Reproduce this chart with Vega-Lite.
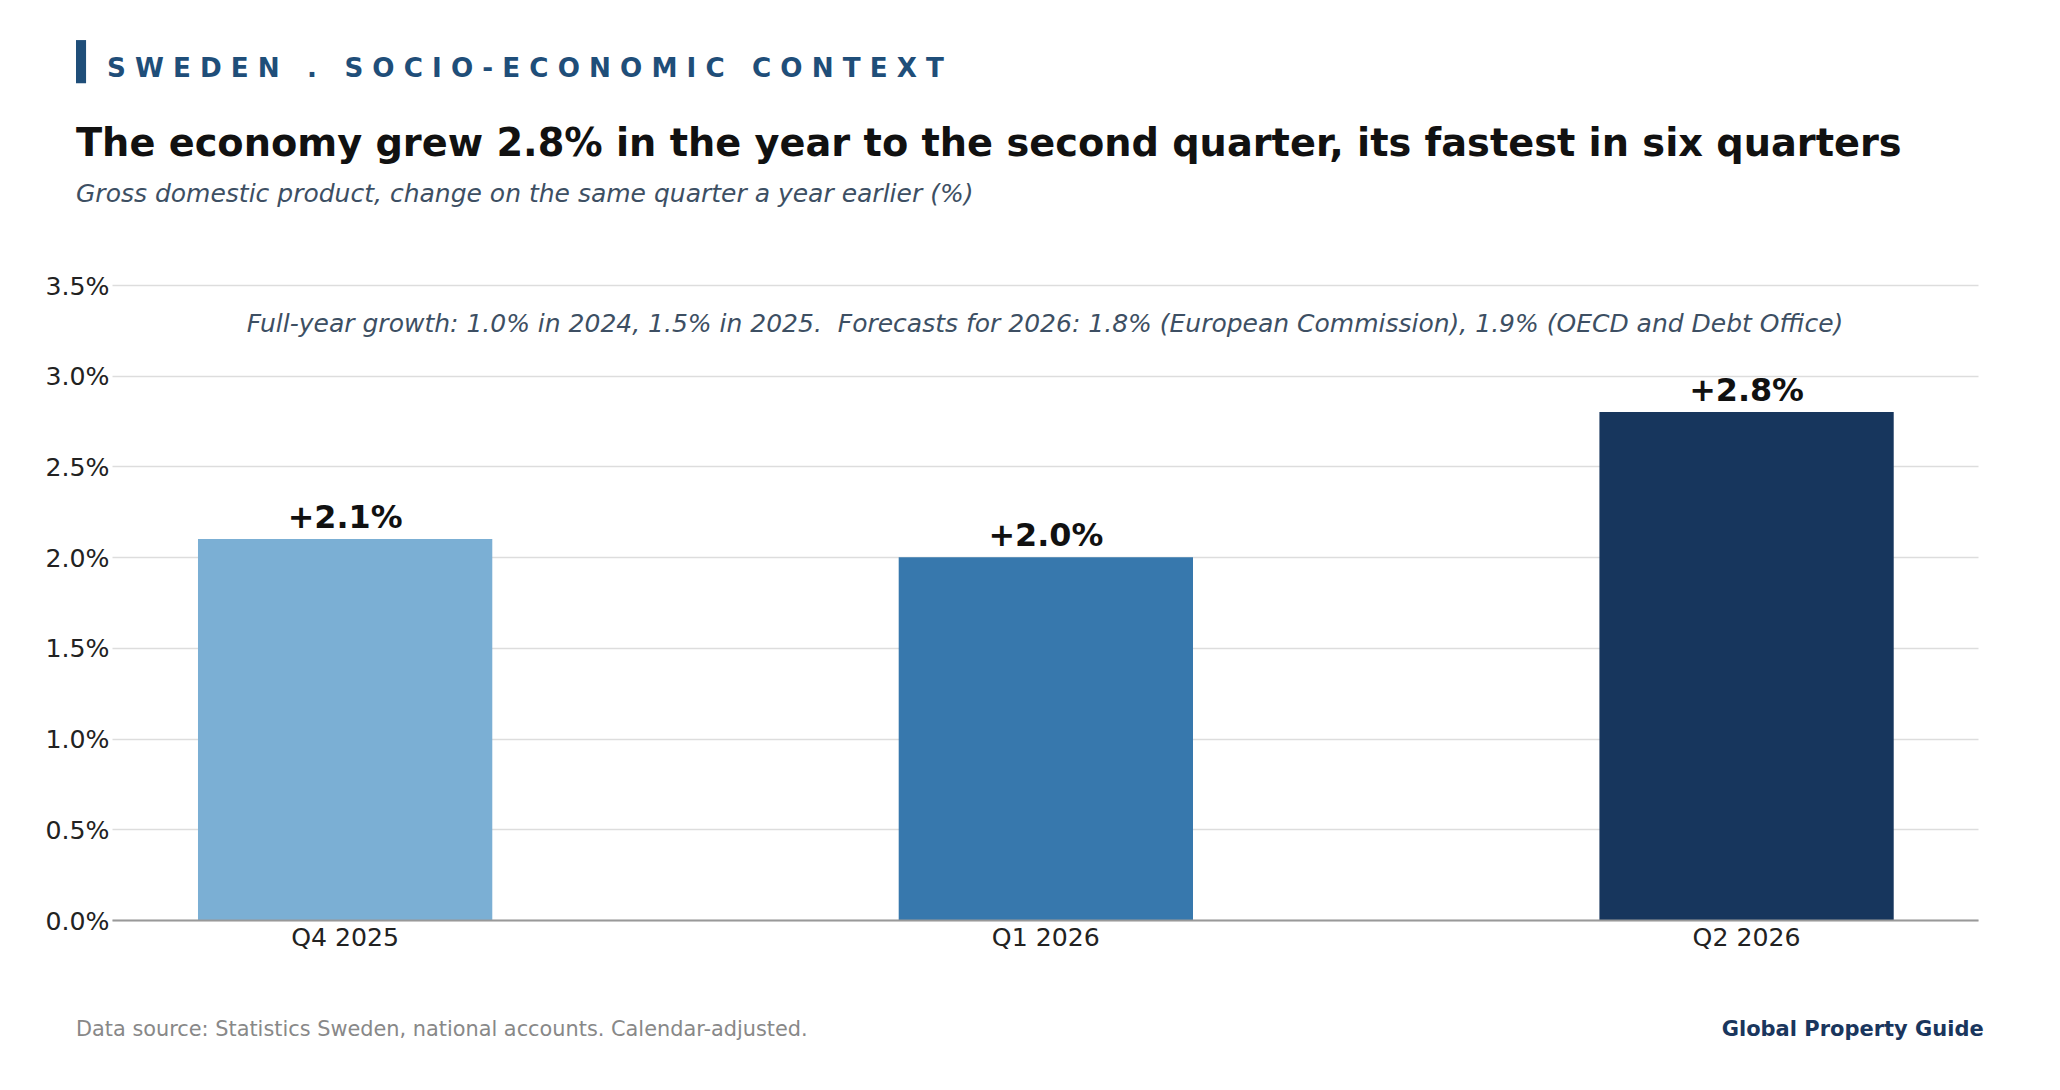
{
  "$schema": "https://vega.github.io/schema/vega-lite/v6.json",
  "width": 1866,
  "height": 635,
  "autosize": "none",
  "padding": {"left": 112, "top": 285, "right": 82, "bottom": 170},
  "background": "white",
  "title": {
    "text": "The economy grew 2.8% in the year to the second quarter, its fastest in six quarters",
    "subtitle": "Gross domestic product, change on the same quarter a year earlier (%)",
    "anchor": "start",
    "frame": "group",
    "dx": -36,
    "offset": -168,
    "font": "DejaVu Sans",
    "fontSize": 38.3,
    "fontWeight": "bold",
    "color": "#111111",
    "subtitleFont": "DejaVu Sans",
    "subtitleFontSize": 25,
    "subtitleFontStyle": "italic",
    "subtitleColor": "#3d4f63",
    "subtitlePadding": 18
  },
  "data": {
    "values": [
      {"quarter": "Q4 2025", "growth": 2.1, "label": "+2.1%"},
      {"quarter": "Q1 2026", "growth": 2.0, "label": "+2.0%"},
      {"quarter": "Q2 2026", "growth": 2.8, "label": "+2.8%"}
    ]
  },
  "layer": [
    {
      "encoding": {
        "x": {
          "field": "quarter",
          "type": "nominal",
          "sort": null,
          "scale": {"type": "band", "paddingInner": 0.58, "paddingOuter": 0.1215, "align": 0.505},
          "axis": {
            "title": null,
            "labelAngle": 0,
            "labelFont": "DejaVu Sans",
            "labelFontSize": 25.2,
            "labelColor": "#222222",
            "labelPadding": 5,
            "ticks": false,
            "domainColor": "#999999",
            "domainWidth": 2,
            "grid": false,
            "zindex": 1
          }
        },
        "y": {
          "field": "growth",
          "type": "quantitative",
          "scale": {"domain": [0, 3.5], "nice": false},
          "axis": {
            "title": null,
            "values": [0, 0.5, 1, 1.5, 2, 2.5, 3, 3.5],
            "labelExpr": "format(datum.value, '.1f') + '%'",
            "labelFont": "DejaVu Sans",
            "labelFontSize": 25.2,
            "labelColor": "#222222",
            "labelPadding": 3,
            "labelOffset": 1,
            "ticks": false,
            "domain": false,
            "gridColor": "#dddddd",
            "gridWidth": 1.3
          }
        }
      },
      "layer": [
        {
          "mark": {"type": "bar"},
          "encoding": {
            "color": {
              "field": "quarter",
              "type": "nominal",
              "sort": null,
              "scale": {"range": ["#7bafd4", "#3778ad", "#17365d"]},
              "legend": null
            }
          }
        },
        {
          "mark": {"type": "text", "font": "DejaVu Sans", "fontSize": 31.8, "fontWeight": "bold", "color": "#111111", "baseline": "bottom", "dy": -4},
          "encoding": {"text": {"field": "label"}}
        }
      ]
    },
    {
      "data": {"values": [{}]},
      "layer": [
        {
          "mark": {"type": "rect", "color": "#1f4e79"},
          "encoding": {
            "x": {"datum": -0.0193, "type": "quantitative", "scale": {"domain": [0, 1]}, "axis": null},
            "x2": {"datum": -0.0139},
            "y": {"datum": 4.85, "type": "quantitative"},
            "y2": {"datum": 4.612}
          }
        },
        {
          "mark": {"type": "text", "font": "DejaVu Sans", "fontSize": 26.2, "fontWeight": "bold", "color": "#1f4e79", "align": "left", "baseline": "alphabetic", "text": "S W E D E N \u00a0 . \u00a0 S O C I O - E C O N O M I C \u00a0 C O N T E X T"},
          "encoding": {
            "x": {"datum": -0.0027, "type": "quantitative", "axis": null},
            "y": {"datum": 4.644, "type": "quantitative"}
          }
        },
        {
          "mark": {"type": "text", "font": "DejaVu Sans", "fontSize": 25, "fontStyle": "italic", "color": "#3d4f63", "align": "center", "baseline": "middle", "text": "Full-year growth: 1.0% in 2024, 1.5% in 2025. \u00a0Forecasts for 2026: 1.8% (European Commission), 1.9% (OECD and Debt Office)"},
          "encoding": {
            "x": {"datum": 0.5, "type": "quantitative", "axis": null},
            "y": {"datum": 3.285, "type": "quantitative"}
          }
        },
        {
          "mark": {"type": "text", "font": "DejaVu Sans", "fontSize": 20.85, "color": "#888888", "align": "left", "baseline": "middle", "text": "Data source: Statistics Sweden, national accounts. Calendar-adjusted."},
          "encoding": {
            "x": {"datum": -0.0193, "type": "quantitative", "axis": null},
            "y": {"datum": -0.605, "type": "quantitative"}
          }
        },
        {
          "mark": {"type": "text", "font": "DejaVu Sans", "fontSize": 21, "fontWeight": "bold", "color": "#1a365d", "align": "right", "baseline": "middle", "text": "Global Property Guide"},
          "encoding": {
            "x": {"datum": 1.0031, "type": "quantitative", "axis": null},
            "y": {"datum": -0.605, "type": "quantitative"}
          }
        }
      ]
    }
  ],
  "resolve": {"scale": {"x": "independent"}, "axis": {"x": "independent"}},
  "config": {"view": {"stroke": null}}
}
